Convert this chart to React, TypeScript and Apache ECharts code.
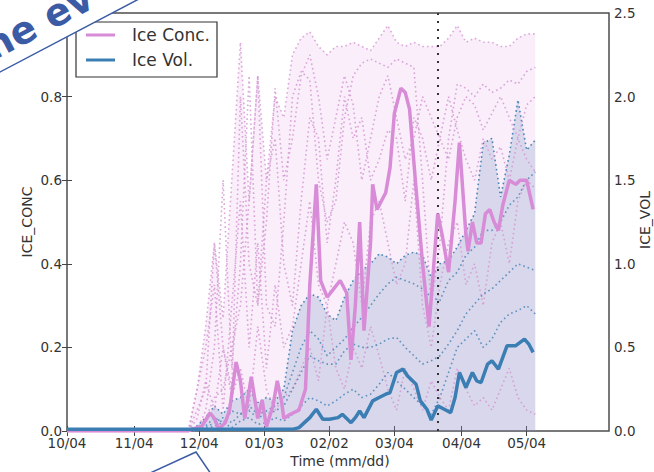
import React, { useEffect, useRef } from "react";
import * as echarts from "echarts";

// x positions are days counted from 10/04
const tickDays = [0, 31, 61, 91, 121, 151, 182, 212];
const tickLabels = ["10/04", "11/04", "12/04", "01/03", "02/02", "03/04", "04/04", "05/04"];
const markerDay = 171;

// Ensemble mean ice concentration
const concDays = [0, 56, 58, 62, 66, 68, 70, 73, 75, 78, 80, 82, 85, 88, 90, 92, 95, 97, 99, 100, 103, 107, 110, 112, 115, 117, 120, 123, 126, 129, 131, 133, 135, 137, 140, 141, 143, 147, 149, 151, 154, 156, 158, 161, 164, 167, 171, 173, 176, 179, 181, 184, 185, 187, 189, 191, 193, 195, 197, 199, 201, 204, 207, 209, 212, 215];
const concMean = [0, 0, 0.005, 0.01, 0.043, 0.03, 0.005, 0.02, 0.05, 0.165, 0.12, 0.03, 0.13, 0.03, 0.074, 0.01, 0.06, 0.12, 0.07, 0.03, 0.04, 0.05, 0.1, 0.35, 0.59, 0.36, 0.32, 0.34, 0.36, 0.33, 0.17, 0.3, 0.5, 0.24, 0.45, 0.59, 0.53, 0.57, 0.63, 0.76, 0.82, 0.81, 0.77, 0.58, 0.4, 0.25, 0.52, 0.47, 0.38, 0.55, 0.69, 0.47, 0.43, 0.5, 0.45, 0.45, 0.52, 0.53, 0.5, 0.48, 0.54, 0.6, 0.59, 0.6, 0.6, 0.53];

// Ensemble mean ice volume
const volDays = [0, 100, 104, 107, 112, 115, 118, 121, 125, 127, 131, 133, 135, 137, 141, 144, 147, 149, 152, 155, 157, 161, 163, 166, 168, 171, 174, 177, 179, 181, 184, 187, 189, 191, 194, 196, 199, 201, 203, 207, 209, 211, 213, 215];
const volMean = [0.01, 0.01, 0.01, 0.02, 0.08, 0.13, 0.07, 0.07, 0.08, 0.1, 0.05, 0.08, 0.12, 0.08, 0.18, 0.2, 0.22, 0.23, 0.35, 0.37, 0.33, 0.28, 0.18, 0.13, 0.065, 0.15, 0.13, 0.11, 0.2, 0.35, 0.26, 0.35, 0.3, 0.29, 0.4, 0.42, 0.37, 0.44, 0.51, 0.51, 0.53, 0.55, 0.52, 0.47];

// Ensemble members (sampled every 4 days)
const memberDays = [56, 60, 64, 68, 72, 76, 80, 84, 88, 92, 96, 100, 104, 108, 112, 116, 120, 124, 128, 132, 136, 140, 144, 148, 152, 156, 160, 164, 168, 172, 176, 180, 184, 188, 192, 196, 200, 204, 208, 212, 216];
const concMax = [0, 0.1, 0.25, 0.45, 0.27, 0.6, 0.93, 0.55, 0.85, 0.6, 0.8, 0.75, 0.9, 0.94, 0.955, 0.92, 0.9, 0.92, 0.92, 0.93, 0.92, 0.91, 0.94, 0.97, 0.93, 0.92, 0.93, 0.92, 0.92, 0.92, 0.94, 0.97, 0.93, 0.94, 0.93, 0.93, 0.92, 0.92, 0.94, 0.95, 0.95];
const concMemberA = [0, 0, 0.03, 0.08, 0.1, 0.2, 0.3, 0.55, 0.85, 0.3, 0.25, 0.5, 0.8, 0.86, 0.84, 0.6, 0.5, 0.55, 0.75, 0.85, 0.88, 0.89, 0.88, 0.87, 0.89, 0.88, 0.87, 0.6, 0.3, 0.45, 0.7, 0.83, 0.82, 0.8, 0.83, 0.81, 0.82, 0.84, 0.83, 0.86, 0.87];
const concMemberB = [0, 0.05, 0.1, 0.45, 0.2, 0.1, 0.8, 0.4, 0.3, 0.6, 0.7, 0.4, 0.3, 0.55, 0.75, 0.7, 0.45, 0.6, 0.8, 0.7, 0.75, 0.6, 0.65, 0.72, 0.7, 0.55, 0.75, 0.7, 0.6, 0.7, 0.8, 0.72, 0.65, 0.6, 0.7, 0.65, 0.68, 0.6, 0.7, 0.65, 0.62];
const concMemberC = [0, 0.1, 0.2, 0.35, 0.05, 0.3, 0.55, 0.2, 0.45, 0.15, 0.35, 0.2, 0.25, 0.4, 0.55, 0.35, 0.3, 0.4, 0.5, 0.45, 0.3, 0.5, 0.55, 0.45, 0.35, 0.4, 0.6, 0.3, 0.2, 0.35, 0.45, 0.5, 0.35, 0.4, 0.3, 0.45, 0.5, 0.4, 0.55, 0.6, 0.58];
const concMemberD = [0, 0.03, 0.12, 0.05, 0.2, 0.08, 0.15, 0.05, 0.25, 0.1, 0.05, 0.08, 0.1, 0.15, 0.2, 0.12, 0.3, 0.15, 0.1, 0.2, 0.15, 0.25, 0.18, 0.1, 0.05, 0.15, 0.1, 0.05, 0.12, 0.08, 0.05, 0.15, 0.1, 0.06, 0.08, 0.05, 0.1, 0.15, 0.08, 0.05, 0.04];
const concMemberE = [0, 0, 0.05, 0.2, 0.6, 0.15, 0.4, 0.85, 0.3, 0.5, 0.82, 0.6, 0.7, 0.85, 0.9, 0.8, 0.65, 0.75, 0.85, 0.78, 0.6, 0.7, 0.8, 0.85, 0.75, 0.65, 0.7, 0.8, 0.75, 0.7, 0.65, 0.75, 0.8, 0.78, 0.72, 0.76, 0.8, 0.75, 0.7, 0.78, 0.8];
const volMax = [0, 0.03, 0.08, 0.15, 0.1, 0.18, 0.2, 0.25, 0.17, 0.2, 0.18, 0.25, 0.6, 0.75, 0.82, 0.8, 0.7, 0.66, 0.8, 0.9, 0.96, 1.0, 1.06, 1.04, 1.0, 1.05, 1.07, 1.05, 0.92, 1.0, 1.02, 1.1, 1.2, 1.3, 1.72, 1.75, 1.4, 1.65, 1.98, 1.68, 1.74];
const volMemberA = [0, 0.01, 0.03, 0.08, 0.05, 0.12, 0.1, 0.15, 0.1, 0.12, 0.15, 0.2, 0.35, 0.5, 0.6, 0.55, 0.45, 0.5, 0.55, 0.62, 0.68, 0.75, 0.82, 0.88, 0.92, 0.9, 0.88, 0.85, 0.8, 0.78, 0.9, 0.95, 1.05, 1.1, 1.2, 1.2, 1.25, 1.35, 1.4, 1.5, 1.55];
const volMemberB = [0, 0, 0.02, 0.05, 0.08, 0.05, 0.1, 0.12, 0.08, 0.1, 0.12, 0.15, 0.25, 0.35, 0.45, 0.42, 0.4, 0.4, 0.48, 0.52, 0.5, 0.5, 0.52, 0.55, 0.56, 0.5, 0.45, 0.4, 0.42, 0.45, 0.52, 0.6, 0.7, 0.76, 0.82, 0.85, 0.9, 0.95, 1.0, 0.98, 0.96];
const volMemberC = [0, 0, 0.01, 0.03, 0.05, 0.02, 0.06, 0.08, 0.04, 0.05, 0.08, 0.06, 0.1, 0.15, 0.2, 0.18, 0.15, 0.18, 0.22, 0.25, 0.2, 0.22, 0.28, 0.35, 0.3, 0.25, 0.2, 0.15, 0.1, 0.2, 0.35, 0.5, 0.55, 0.6, 0.5, 0.55, 0.65, 0.7, 0.72, 0.75, 0.7];

const PINK = "#D88BD6";
const PINK_DOT = "#D596D3";
const BLUE = "#3B7EB3";
const BLUE_DOT = "#4A86B8";
const ANNOT = "#3B5BA5";
const FONT = "DejaVu Sans";

const zip = (xs: number[], ys: number[]) => xs.map((x, i) => [x, ys[i]]);

function dotted(name: string, xs: number[], ys: number[], color: string, yAxisIndex: number, z: number) {
  return {
    name,
    type: "line",
    xAxisIndex: 0,
    yAxisIndex,
    data: zip(xs, ys),
    symbol: "none",
    silent: true,
    z,
    lineStyle: { color, width: 1.6, type: [1.6, 3], opacity: 0.85 },
  };
}

export default function App() {
  const ref = useRef<HTMLDivElement>(null);
  useEffect(() => {
    const chart = echarts.init(ref.current!, null, { renderer: "svg" });
    const tickCommon = {
      show: true,
      inside: true,
      length: 5,
      customValues: tickDays,
      lineStyle: { color: "#444", width: 1 },
    };
    const option: any = {
      animation: false,
      grid: { left: 67, right: 45, top: 13, bottom: 41, show: true, borderColor: "#4d4d4d", borderWidth: 1.5 },
      xAxis: [
        {
          type: "value",
          min: 0,
          max: 250,
          position: "bottom",
          axisLine: { show: false },
          splitLine: { show: false },
          axisTick: tickCommon,
          axisLabel: {
            customValues: tickDays,
            formatter: (v: number) => tickLabels[tickDays.indexOf(v)] ?? "",
            fontSize: 13.5,
            color: "#333",
            margin: 5,
            fontFamily: FONT,
          },
        },
        {
          type: "value",
          min: 0,
          max: 250,
          position: "top",
          axisLine: { show: false },
          splitLine: { show: false },
          axisTick: tickCommon,
          axisLabel: { show: false },
        },
      ],
      yAxis: [
        {
          type: "value",
          min: 0,
          max: 1,
          interval: 0.2,
          position: "left",
          axisLine: { show: false },
          splitLine: { show: false },
          axisTick: { show: true, inside: true, length: 5, lineStyle: { color: "#444" } },
          axisLabel: {
            formatter: (v: number) => v.toFixed(1),
            showMaxLabel: false,
            fontSize: 13.5,
            color: "#333",
            margin: 5,
            fontFamily: FONT,
          },
        },
        {
          type: "value",
          min: 0,
          max: 2.5,
          interval: 0.5,
          position: "right",
          axisLine: { show: false },
          splitLine: { show: false },
          axisTick: { show: true, inside: true, length: 5, lineStyle: { color: "#444" } },
          axisLabel: {
            formatter: (v: number) => v.toFixed(1),
            fontSize: 13.5,
            color: "#333",
            margin: 5,
            fontFamily: FONT,
          },
        },
      ],
      series: [
        {
          name: "concEnvelope",
          type: "line",
          yAxisIndex: 0,
          data: zip(memberDays, concMax),
          symbol: "none",
          silent: true,
          z: 1,
          lineStyle: { color: PINK_DOT, width: 1.6, type: [1.6, 3], opacity: 0.8 },
          areaStyle: { color: "rgba(221,160,221,0.25)" },
        },
        {
          name: "volEnvelope",
          type: "line",
          yAxisIndex: 1,
          data: zip(memberDays, volMax),
          symbol: "none",
          silent: true,
          z: 2,
          lineStyle: { color: BLUE_DOT, width: 1.6, type: [1.6, 3] },
          areaStyle: { color: "rgba(70,110,175,0.25)" },
        },
        dotted("concA", memberDays, concMemberA, PINK_DOT, 0, 3),
        dotted("concB", memberDays, concMemberB, PINK_DOT, 0, 3),
        dotted("concC", memberDays, concMemberC, PINK_DOT, 0, 3),
        dotted("concD", memberDays, concMemberD, PINK_DOT, 0, 3),
        dotted("concE", memberDays, concMemberE, PINK_DOT, 0, 3),
        dotted("volA", memberDays, volMemberA, BLUE_DOT, 1, 4),
        dotted("volB", memberDays, volMemberB, BLUE_DOT, 1, 4),
        dotted("volC", memberDays, volMemberC, BLUE_DOT, 1, 4),
        {
          name: "Ice Conc.",
          type: "line",
          yAxisIndex: 0,
          data: zip(concDays, concMean),
          symbol: "none",
          z: 5,
          lineStyle: { color: PINK, width: 3.5 },
          markLine: {
            symbol: "none",
            silent: true,
            label: { show: false },
            lineStyle: { type: [2, 6], color: "#333", width: 2 },
            data: [{ xAxis: markerDay }],
          },
        },
        {
          name: "Ice Vol.",
          type: "line",
          yAxisIndex: 1,
          data: zip(volDays, volMean),
          symbol: "none",
          z: 6,
          lineStyle: { color: BLUE, width: 3.5 },
        },
      ],
      graphic: [
        // legend
        { type: "rect", z: 100, shape: { x: 76, y: 22, width: 141, height: 55 }, style: { fill: "#fff", stroke: "#333", lineWidth: 1.2 } },
        { type: "line", z: 101, shape: { x1: 86, y1: 35, x2: 115, y2: 35 }, style: { stroke: PINK, lineWidth: 3 } },
        { type: "line", z: 101, shape: { x1: 86, y1: 60, x2: 115, y2: 60 }, style: { stroke: BLUE, lineWidth: 3 } },
        { type: "text", z: 101, x: 132, y: 35, style: { text: "Ice Conc.", fontSize: 17, fontFamily: FONT, fill: "#333", verticalAlign: "middle" } },
        { type: "text", z: 101, x: 132, y: 60, style: { text: "Ice Vol.", fontSize: 17, fontFamily: FONT, fill: "#333", verticalAlign: "middle" } },
        // axis names
        { type: "text", z: 101, x: 27, y: 222, rotation: Math.PI / 2, style: { text: "ICE_CONC", fontSize: 14, fontFamily: FONT, fill: "#333", align: "center", verticalAlign: "middle" } },
        { type: "text", z: 101, x: 645, y: 220, rotation: Math.PI / 2, style: { text: "ICE_VOL", fontSize: 14, fontFamily: FONT, fill: "#333", align: "center", verticalAlign: "middle" } },
        { type: "text", z: 101, x: 340, y: 461, style: { text: "Time (mm/dd)", fontSize: 14, fontFamily: FONT, fill: "#333", align: "center", verticalAlign: "middle" } },
        // annotation box (top-left)
        { type: "polygon", z: 110, shape: { points: [[-10, 77.25], [146.5, -5], [-10, -5]] }, style: { fill: "#fff" } },
        { type: "line", z: 111, shape: { x1: -10, y1: 77.25, x2: 146.5, y2: -5 }, style: { stroke: ANNOT, lineWidth: 1.5 } },
        { type: "text", z: 112, x: -4, y: 66, rotation: 0.483, style: { text: "ne ev", fontSize: 38, fontWeight: "bold", fontFamily: FONT, fill: ANNOT, verticalAlign: "bottom" } },
        // callout at bottom
        { type: "polyline", z: 111, shape: { points: [[148, 474], [196, 452], [211, 474]] }, style: { stroke: ANNOT, lineWidth: 1.5, fill: "none" } },
      ],
    };
    chart.setOption(option);
    return () => chart.dispose();
  }, []);
  return <div ref={ref} style={{ position: "absolute", left: 0, top: 0, width: 654, height: 472 }} />;
}
